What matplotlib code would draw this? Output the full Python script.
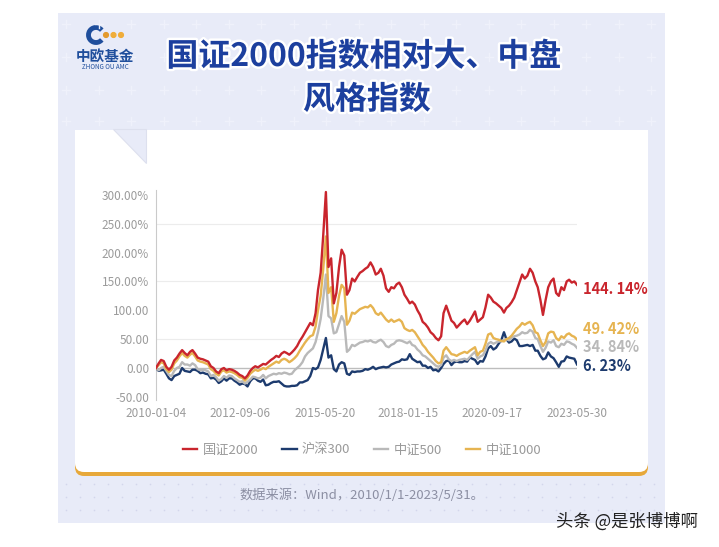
import matplotlib
matplotlib.use('Agg')
import matplotlib.pyplot as plt
import matplotlib.patheffects as pe
from matplotlib.patches import Rectangle, Polygon, FancyBboxPatch, Arc, Circle
import numpy as np
import pandas as pd

plt.rcParams['font.family'] = ['Noto Sans CJK SC', 'DejaVu Sans']

# month-end points, 2009-12-31 .. 2023-05-31 (cumulative return, %)
dates = pd.date_range('2009-12-31', periods=162, freq=pd.offsets.MonthEnd())

gz2000 = [0, 8, 14, 12, 2, -3, 2, 13, 18, 25, 31, 26, 22,
          28, 31, 25, 18, 16, 15, 13, 11, 3, 0, -6, -9,
          -2, 0, -4, -2, -3, -5, -8, -12, -14, -18, -13, -5,
          0, 3, 1, 4, 7, 6, 10, 14, 17, 21, 19, 25,
          28, 26, 23, 27, 32, 38, 47, 54, 62, 70, 78, 74,
          95, 135, 165, 230, 305, 175, 190, 112, 130, 175, 205, 195,
          127, 135, 155, 150, 158, 165, 168, 172, 175, 183, 175, 162,
          165, 172, 160, 138, 132, 140, 138, 145, 148, 140, 127, 120,
          112, 115, 110, 100, 92, 80, 76, 70, 62, 58, 52, 48,
          55, 95, 108, 95, 82, 78, 70, 75, 80, 84, 76, 82,
          90, 98, 80, 84, 88, 105, 127, 122, 115, 112, 108, 104,
          96, 104, 108, 114, 122, 135, 148, 162, 155, 160, 172, 165,
          150, 140, 118, 92, 118, 140, 150, 155, 130, 125, 140, 135,
          150, 153, 148, 150, 144.14]

hs300 = [0, -5, -4, -3, -10, -18, -21, -14, -12, -10, 0, -5, -6,
         -7, -3, -3, -5, -9, -8, -10, -11, -18, -17, -20, -26,
         -23, -18, -22, -18, -18, -22, -25, -29, -27, -28, -32, -23,
         -18, -18, -22, -24, -20, -30, -29, -26, -24, -24, -23, -27,
         -31, -32, -32, -31, -31, -30, -25, -25, -23, -21, -14, 0,
         -2, 1, 14, 33, 52, 18, 22, -2, -6, 6, 10, 8,
         -10, -12, -6, -7, -6, -6, -5, -2, -3, -1, 2, -2,
         0, 1, 2, 1, 2, 6, 8, 10, 11, 15, 14, 15,
         24, 16, 13, 10, 11, 4, 4, 0, 2, -4, -3, -6,
         0, 7, 12, 13, 5, 10, 11, 10, 10, 12, 11, 18,
         16, 14, 7, 12, 11, 20, 34, 38, 32, 35, 42, 48,
         62, 50, 44, 46, 51, 48, 38, 38, 39, 40, 38, 40,
         30, 30, 21, 15, 17, 27, 20, 17, 10, 2, 11, 12,
         20, 18, 17, 16, 6.23]

zz500 = [0, -4, 0, 2, -5, -12, -14, -5, 0, 2, 10, 6, 6,
         4, 8, 5, -2, -4, -3, -4, -6, -14, -12, -16, -22,
         -19, -14, -17, -13, -14, -18, -21, -24, -23, -27, -24, -20,
         -15, -16, -18, -17, -12, -18, -14, -12, -10, -11, -9, -10,
         -8, -9, -11, -10, -4, 0, 4, 10, 20, 26, 30, 34,
         45, 62, 85, 120, 162, 90, 86, 60, 62, 76, 90, 80,
         28, 32, 40, 38, 41, 44, 45, 47, 46, 48, 45, 44,
         47, 49, 45, 38, 36, 40, 42, 47, 48, 47, 45, 43,
         46, 40, 38, 32, 28, 22, 20, 16, 12, 8, 4, 2,
         5, 18, 22, 15, 12, 14, 12, 14, 15, 16, 14, 19,
         24, 28, 16, 20, 22, 30, 42, 45, 42, 44, 46, 46,
         49, 50, 48, 52, 55, 56, 58, 62, 60, 61, 66, 63,
         52, 50, 38, 28, 35, 46, 44, 48, 38, 36, 42, 40,
         46, 45, 42, 40, 34.84]

zz1000 = [0, 5, 10, 8, -2, -7, -3, 8, 13, 20, 26, 21, 18,
          23, 26, 20, 13, 11, 10, 8, 6, -2, -5, -10, -13,
          -6, -4, -8, -6, -7, -9, -12, -16, -17, -22, -17, -10,
          -6, -3, -5, -3, 0, -2, 2, 5, 8, 11, 9, 14,
          16, 14, 10, 13, 17, 22, 30, 37, 44, 50, 55, 57,
          72, 100, 125, 172, 228, 130, 140, 80, 95, 125, 144, 138,
          75, 82, 96, 94, 98, 102, 104, 106, 105, 109, 104, 95,
          92, 96, 90, 84, 80, 84, 80, 82, 84, 80, 69, 66,
          64, 66, 62, 55, 48, 40, 35, 28, 23, 18, 12, 8,
          10, 30, 36, 30, 24, 23, 21, 24, 26, 28, 26, 30,
          33, 36, 22, 28, 30, 42, 58, 60, 52, 50, 49, 47,
          46, 50, 52, 56, 62, 68, 72, 78, 75, 78, 80, 74,
          62, 60, 48, 38, 45, 60, 63, 62, 52, 48, 55, 52,
          58, 60, 56, 54, 49.42]

names = ['国证2000', '沪深300', '中证500', '中证1000']
colors = ['#c9252d', '#1d3b6e', '#b9b9b9', '#e6b451']
end_labels = ['144. 14%', '6. 23%', '34. 84%', '49. 42%']
end_offsets = [(6, -4), (6, -2), (6, 1), (6, 10)]   # pixels

tick_dates = ['2010-01-04', '2012-09-06', '2015-05-20', '2018-01-15', '2020-09-17', '2023-05-30']
ytick_vals = [-50, 0, 50, 100, 150, 200, 250, 300]
ytick_labels = ['-50.00', '0.00', '50.00', '100.00', '150.00%', '200.00%', '250.00%', '300.00%']

W, H = 719, 547
fig = plt.figure(figsize=(W / 100, H / 100), dpi=100)
fig.patch.set_facecolor('white')

# ---- background decoration (pixel coords) ----
bg = fig.add_axes([0, 0, 1, 1], zorder=0)
bg.set_xlim(0, W)
bg.set_ylim(H, 0)
bg.axis('off')

panel_c = '#e8ebf8'
bg.add_patch(Rectangle((58, 13), 607, 510, fc=panel_c, ec='none'))

# faint crosses in the header
for yy in [24, 57, 90, 121]:
    for xx in np.arange(66, 662, 32.5):
        bg.plot([xx - 4, xx + 4], [yy, yy], color='#eff1fb', lw=1.0)
        bg.plot([xx, xx], [yy - 4, yy + 4], color='#eff1fb', lw=1.0)

# dots under the card
for yy in [484, 497, 510]:
    for xx in np.arange(66, 662, 14):
        bg.plot(xx, yy, 'o', ms=1.2, color='#d3d6ec', mec='none')

# white card with gold bottom edge
bg.add_patch(FancyBboxPatch((75, 150), 573, 326, boxstyle='round,pad=0,rounding_size=9',
                            fc='#e7a83a', ec='none'))
bg.add_patch(FancyBboxPatch((75, 130), 573, 342, boxstyle='round,pad=0,rounding_size=9',
                            fc='white', ec='none'))
bg.add_patch(Rectangle((75, 130), 573, 30, fc='white', ec='none'))
bg.add_patch(Polygon([(113, 129), (146, 129), (146, 163)], closed=True, fc=panel_c, ec='#dde0ee', lw=0.8))

# logo
bg.add_patch(Arc((96, 35), 15, 15, theta1=40, theta2=320, color='#1f4e9c', lw=3.5))
bg.add_patch(Circle((106, 35), 2.4, color='#e39a2c'))
bg.add_patch(Circle((113.5, 35), 2.4, color='#f0ad3a'))
bg.add_patch(Circle((121, 35), 2.4, color='#f0ad3a'))
bg.text(105, 56, '中欧基金', ha='center', va='center', fontsize=10.5, fontweight='bold', color='#1f4e9c')
bg.text(105, 67, 'ZHONG OU AMC', ha='center', va='center', fontsize=4.5, color='#1f4e9c')

# title
title_fx = [pe.withStroke(linewidth=3.5, foreground='white')]
bg.text(364, 57, '国证2000指数相对大、中盘', ha='center', va='center', fontsize=23,
        fontweight='heavy', color='#1c3f9e', path_effects=title_fx)
bg.text(367, 100, '风格指数', ha='center', va='center', fontsize=23,
        fontweight='heavy', color='#1c3f9e', path_effects=title_fx)

bg.text(362, 495, '数据来源：Wind，2010/1/1-2023/5/31。', ha='center', va='center',
        fontsize=9.5, color='#8c8fa3')
bg.text(627, 522, '头条 @是张博博啊', ha='center', va='center', fontsize=12.5, color='#222222')

# ---- chart ----
ax = fig.add_axes([156 / W, 1 - 400 / H, 421 / W, 210 / H], zorder=1)
ax.patch.set_alpha(0)

for g in [50, 150, 250]:
    ax.axhline(g, color='#ececec', lw=0.8, zorder=0)
ax.axhline(0, color='#bdbdbd', lw=1.0, zorder=1)

series = [gz2000, hs300, zz500, zz1000]
zorders = [6, 3, 4, 5]
lines = []
for vals, name, c, z in zip(series, names, colors, zorders):
    ln, = ax.plot(dates, vals, color=c, lw=1.7, label=name, zorder=z)
    lines.append(ln)

for vals, lab, c, off in zip(series, end_labels, colors, end_offsets):
    ax.annotate(lab, xy=(dates[-1], vals[-1]), xytext=off, textcoords='offset pixels',
                ha='left', va='center', fontsize=10.5, fontweight='bold', color=c,
                annotation_clip=False)

ax.set_xlim(dates[0], dates[-1])
ax.set_ylim(-55.5, 308.5)
ax.set_yticks(ytick_vals)
ax.set_yticklabels(ytick_labels)
ax.set_xticks(pd.to_datetime(tick_dates))
ax.set_xticklabels(tick_dates)
ax.tick_params(length=0, labelsize=8.5, colors='#9b9b9b', pad=5)
for s in ['top', 'right', 'bottom']:
    ax.spines[s].set_visible(False)
ax.spines['left'].set_color('#cacaca')

fig.legend(lines, names, loc='center', bbox_to_anchor=(362 / W, 1 - 450 / H), ncol=4,
           frameon=False, fontsize=9.5, handlelength=1.1, handletextpad=0.4,
           columnspacing=1.8, labelcolor='#9a9a9a')

fig.savefig('out.png', dpi=100)
